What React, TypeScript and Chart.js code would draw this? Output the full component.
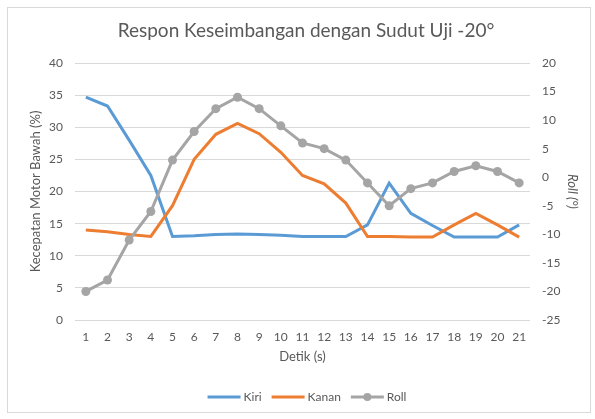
import React, { useEffect, useRef } from "react";
import { Chart, registerables } from "chart.js";

Chart.register(...registerables);

const TITLE = "Respon Keseimbangan dengan Sudut Uji -20°";
const X_LABELS = ["1","2","3","4","5","6","7","8","9","10","11","12","13","14","15","16","17","18","19","20","21"];
const KIRI = [34.7, 33.3, 28.0, 22.5, 13.0, 13.1, 13.3, 13.4, 13.3, 13.2, 13.0, 13.0, 13.0, 14.8, 21.3, 16.6, 14.7, 12.9, 12.9, 12.9, 14.8];
const KANAN = [14.0, 13.75, 13.3, 13.0, 17.8, 25.0, 28.9, 30.6, 29.0, 26.1, 22.5, 21.2, 18.2, 13.0, 13.0, 12.9, 12.9, 14.8, 16.6, 14.8, 12.9];
const ROLL = [-20, -18, -11, -6, 3, 8, 12, 14, 12, 9, 6, 5, 3, -1, -5, -2, -1, 1, 2, 1, -1];

const FONT = "Lato, 'Open Sans', sans-serif";
const TEXT = "#595959";
const GRID = "#d9d9d9";
const C_KIRI = "#5b9bd5";
const C_KANAN = "#ed7d31";
const C_ROLL = "#a5a5a5";

const framePlugin = {
  id: "frame",
  beforeDraw(chart: any) {
    const ctx = chart.ctx;
    ctx.save();
    ctx.fillStyle = "#ffffff";
    ctx.fillRect(0, 0, chart.width, chart.height);
    ctx.strokeStyle = "#d9d9d9";
    ctx.lineWidth = 1;
    ctx.strokeRect(7.5, 7.5, 583, 405);
    ctx.restore();
  },
  afterDraw(chart: any) {
    const ctx = chart.ctx;
    ctx.save();
    // title
    ctx.fillStyle = TEXT;
    ctx.font = `19px ${FONT}`;
    ctx.textAlign = "center";
    ctx.textBaseline = "middle";
    ctx.fillText(TITLE, 306, 31);
    // legend
    const items = chart.data.datasets.map((d: any) => ({ text: d.label, color: d.borderColor, point: d.pointRadius > 0 }));
    ctx.font = `12px ${FONT}`;
    ctx.textAlign = "left";
    const lineW = 33;
    const gap = 3;
    const sep = 10;
    let total = 0;
    items.forEach((it: any, i: number) => {
      total += lineW + gap + ctx.measureText(it.text).width + (i < items.length - 1 ? sep : 0);
    });
    let x = 307 - total / 2;
    const y = 397;
    items.forEach((it: any) => {
      ctx.strokeStyle = it.color;
      ctx.lineWidth = 3;
      ctx.beginPath();
      ctx.moveTo(x, y);
      ctx.lineTo(x + lineW, y);
      ctx.stroke();
      if (it.point) {
        ctx.fillStyle = it.color;
        ctx.beginPath();
        ctx.arc(x + lineW / 2, y, 4, 0, Math.PI * 2);
        ctx.fill();
      }
      ctx.fillStyle = TEXT;
      ctx.fillText(it.text, x + lineW + gap, y);
      x += lineW + gap + ctx.measureText(it.text).width + sep;
    });
    ctx.restore();
  },
};

export default function App() {
  const ref = useRef<HTMLCanvasElement>(null);
  useEffect(() => {
    const chart = new Chart(ref.current!, {
      type: "line",
      data: {
        labels: X_LABELS,
        datasets: [
          { label: "Kiri", data: KIRI, borderColor: C_KIRI, backgroundColor: C_KIRI, borderWidth: 3, pointRadius: 0, yAxisID: "y", order: 2, tension: 0 },
          { label: "Kanan", data: KANAN, borderColor: C_KANAN, backgroundColor: C_KANAN, borderWidth: 3, pointRadius: 0, yAxisID: "y", order: 1, tension: 0 },
          { label: "Roll", data: ROLL, borderColor: C_ROLL, backgroundColor: C_ROLL, borderWidth: 3, pointRadius: 4.5, pointBorderWidth: 0, pointBackgroundColor: C_ROLL, yAxisID: "y1", order: 0, tension: 0 },
        ],
      },
      options: {
        animation: false,
        responsive: false,
        maintainAspectRatio: false,
        layout: { padding: { top: 63, left: 10, right: 10, bottom: 54 } },
        plugins: { legend: { display: false }, title: { display: false }, tooltip: { enabled: false } },
        scales: {
          x: {
            offset: true,
            grid: { display: false, drawTicks: false },
            border: { display: false },
            ticks: { color: TEXT, font: { family: FONT, size: 12 }, padding: 10, maxRotation: 0, autoSkip: false },
            title: { display: true, text: "Detik (s)", color: TEXT, font: { family: FONT, size: 13 }, padding: { top: 4, bottom: 0 } },
            afterFit: (s: any) => { s.height = 45; },
          },
          y: {
            position: "left",
            min: 0, max: 40,
            ticks: { stepSize: 5, color: TEXT, font: { family: FONT, size: 12 }, padding: 12 },
            grid: { color: GRID, lineWidth: 1, drawTicks: false },
            border: { display: false },
            title: { display: true, text: "Kecepatan Motor Bawah (%)", color: TEXT, font: { family: FONT, size: 13 }, padding: { top: 18, bottom: 2 } },
            afterFit: (s: any) => { s.width = 65; },
          },
          y1: {
            position: "right",
            min: -25, max: 20,
            ticks: { stepSize: 5, color: TEXT, font: { family: FONT, size: 12 }, padding: 12 },
            grid: { display: false, drawTicks: false },
            border: { display: false },
            title: { display: true, text: "Roll (°)", color: TEXT, font: { family: FONT, size: 13, style: "italic" }, padding: { top: 5, bottom: 2 } },
            afterFit: (s: any) => { s.width = 55; },
          },
        },
      },
      plugins: [framePlugin],
    });
    return () => chart.destroy();
  }, []);
  return (
    <div style={{ position: "fixed", left: 0, top: 0, width: 595, height: 419 }}>
      <canvas ref={ref} width={595} height={419} style={{ width: 595, height: 419 }} />
    </div>
  );
}
